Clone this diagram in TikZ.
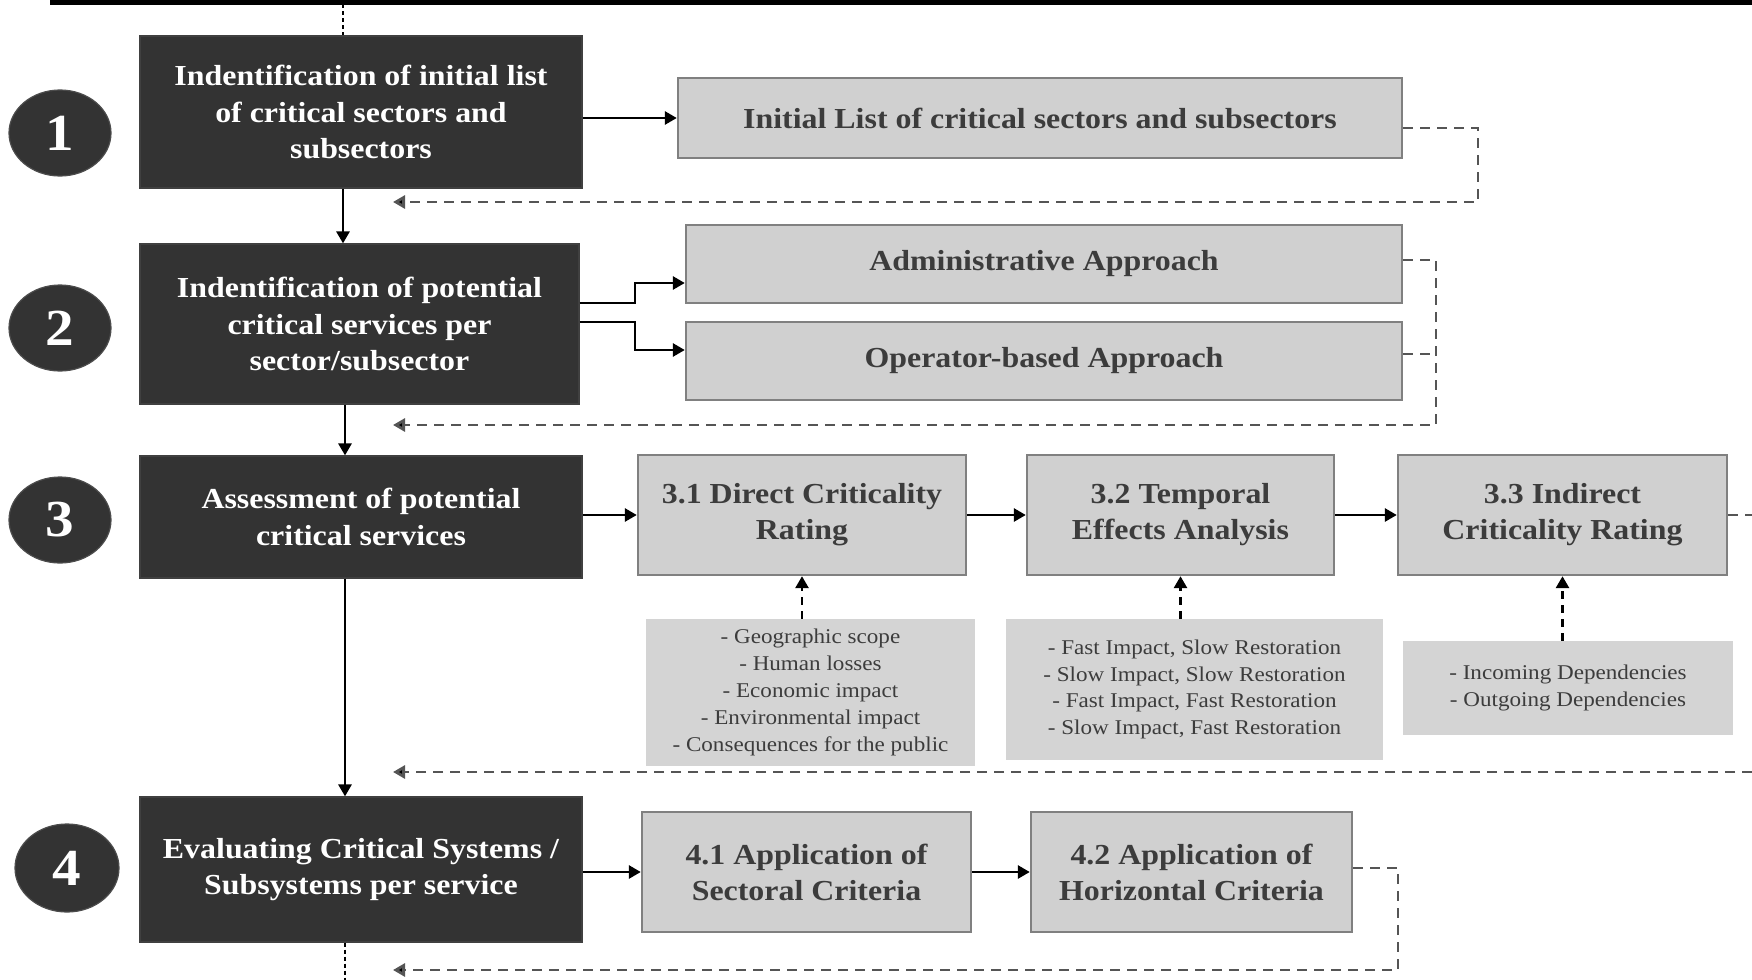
\documentclass[tikz,border=0pt]{standalone}
\usepackage{fontspec}
\setmainfont{Liberation Serif}[FakeStretch=1.1]
\usetikzlibrary{arrows.meta,shapes.geometric}

\definecolor{boxdark}{HTML}{333333}
\definecolor{boxgray}{HTML}{D0D0D0}
\definecolor{boxedge}{HTML}{808080}
\definecolor{listgray}{HTML}{D4D4D4}
\definecolor{textgray}{HTML}{3C3C3C}
\definecolor{dashgray}{HTML}{555555}

\tikzset{
  darkbox/.style={rectangle, fill=boxdark, draw=black!75, line width=0.6pt, text=white, inner sep=0pt,
    align=center, font=\bfseries\fontsize{14.5}{18.2}\selectfont},
  graybox/.style={rectangle, fill=boxgray, draw=boxedge, line width=1.2pt, text=textgray, inner sep=0pt,
    align=center, font=\bfseries\fontsize{14.5}{18}\selectfont},
  listbox/.style={rectangle, fill=listgray, text=textgray, inner sep=0pt,
    align=center, font=\fontsize{10.5}{13.4}\selectfont},
  numball/.style={ellipse, fill=boxdark, draw=black!70, line width=0.6pt, text=white,
    inner sep=0pt, font=\bfseries\fontsize{26}{26}\selectfont},
  flow/.style={line width=1.4pt, -{Triangle[length=6pt,width=6.5pt]}},
  feedback/.style={draw=dashgray, line width=1.4pt, dash pattern=on 5pt off 3.5pt},
  feedbackarrow/.style={feedback, -{Triangle[length=6pt,width=6.5pt,fill=black]}},
  inputarrow/.style={line width=1.4pt, dash pattern=on 4pt off 3pt, -{Triangle[length=6pt,width=6.5pt]}},
  tapline/.style={line width=1.4pt, dash pattern=on 2pt off 1.5pt},
}

\begin{document}
\begin{tikzpicture}[x=0.5pt,y=-0.5pt]
\useasboundingbox[fill=white] (0,0) rectangle (1752,980);

% main steps
\node[darkbox, minimum width=221pt, minimum height=76pt] (B1) at (361,112)
  {Indentification of initial list\\of critical sectors and\\subsectors};
\node[darkbox, minimum width=219.5pt, minimum height=80pt] (B2) at (359.5,324)
  {Indentification of potential\\critical services per\\sector/subsector};
\node[darkbox, minimum width=221pt, minimum height=61pt] (B3) at (361,517)
  {Assessment of potential\\critical services};
\node[darkbox, minimum width=221pt, minimum height=72.5pt] (B4) at (361,869.5)
  {Evaluating Critical Systems /\\Subsystems per service};

% step numbers
\node[numball, minimum width=51pt, minimum height=43pt] (N1) at (60,133) {1};
\node[numball, minimum width=51pt, minimum height=43pt] (N2) at (60,328) {2};
\node[numball, minimum width=51pt, minimum height=43pt] (N3) at (60,520) {3};
\node[numball, minimum width=52pt, minimum height=44pt] (N4) at (67,868) {4};

% outputs and sub-steps
\node[graybox, minimum width=362pt, minimum height=40pt] (Init) at (1040,118)
  {Initial List of critical sectors and subsectors};
\node[graybox, minimum width=358pt, minimum height=39pt] (Adm) at (1044,264)
  {Administrative Approach};
\node[graybox, minimum width=358pt, minimum height=39pt] (Op) at (1044,361)
  {Operator-based Approach};
\node[graybox, minimum width=164pt, minimum height=60pt] (B31) at (802,515)
  {3.1 Direct Criticality\\Rating};
\node[graybox, minimum width=153.5pt, minimum height=60pt] (B32) at (1180.5,515)
  {3.2 Temporal\\Effects Analysis};
\node[graybox, minimum width=164.5pt, minimum height=60pt] (B33) at (1562.5,515)
  {3.3 Indirect\\Criticality Rating};
\node[graybox, minimum width=164.5pt, minimum height=60pt] (B41) at (806.5,872)
  {4.1 Application of\\Sectoral Criteria};
\node[graybox, minimum width=160.5pt, minimum height=60pt] (B42) at (1191.5,872)
  {4.2 Application of\\Horizontal Criteria};

% criteria lists
\node[listbox, minimum width=164.5pt, minimum height=73.5pt] (L1) at (810.5,692.5)
  {- Geographic scope\\- Human losses\\- Economic impact\\- Environmental impact\\- Consequences for the public};
\node[listbox, minimum width=188.5pt, minimum height=70.5pt] (L2) at (1194.5,689.5)
  {- Fast Impact, Slow Restoration\\- Slow Impact, Slow Restoration\\- Fast Impact, Fast Restoration\\- Slow Impact, Fast Restoration};
\node[listbox, minimum width=165pt, minimum height=47pt] (L3) at (1568,688)
  {- Incoming Dependencies\\- Outgoing Dependencies};

% frame line and taps
\coordinate (topL) at (50,2);
\coordinate (topR) at (1752,2);
\coordinate (topTap) at (343,4);
\coordinate (botTap) at (345,980);
\draw[line width=2.6pt] (topL) -- (topR);
\draw[tapline] (topTap) -- (topTap |- B1.north);
\draw[tapline] (B4.south -| botTap) -- (botTap);

% main flow
\draw[flow] (B1.south -| topTap) -- (B2.north -| topTap);
\draw[flow] (B2.south -| botTap) -- (B3.north -| botTap);
\draw[flow] (B3.south -| botTap) -- (B4.north -| botTap);

% step 1
\draw[flow] (B1.east |- Init.west) -- (Init.west);
% step 2
\coordinate (split) at (635,0);
\draw[flow] (B2.east |- 0,303) -- (split |- 0,303) |- (Adm.west |- 0,283);
\draw[flow] (B2.east |- 0,322) -- (split |- 0,322) |- (Op.west |- 0,350);
% step 3
\draw[flow] (B3.east |- B31.west) -- (B31.west);
\draw[flow] (B31.east) -- (B32.west);
\draw[flow] (B32.east) -- (B33.west);
\draw[inputarrow] (L1.north -| B31.south) -- (B31.south);
\draw[inputarrow] (L2.north -| B32.south) -- (B32.south);
\draw[inputarrow] (L3.north -| B33.south) -- (B33.south);
% step 4
\draw[flow] (B4.east |- B41.west) -- (B41.west);
\draw[flow] (B41.east) -- (B42.west);

% feedback loops
\coordinate (fb1) at (1478,202);
\coordinate (fb2) at (1436,425);
\coordinate (fb3) at (1752,772);
\coordinate (fb4) at (1398,970);
\coordinate (back) at (393,0);
\draw[feedbackarrow] (Init.east |- 0,128) -| (fb1) -- (back |- fb1);
\draw[feedbackarrow] (Adm.east |- 0,260) -| (fb2) -- (back |- fb2);
\draw[feedback] (Op.east |- 0,354) -- (fb2 |- 0,354);
\draw[feedback] (B33.east) -- (B33.east -| fb3);
\draw[feedbackarrow] (fb3) -- (back |- fb3);
\draw[feedbackarrow] (B42.east |- 0,868) -| (fb4) -- (back |- fb4);
\end{tikzpicture}
\end{document}
